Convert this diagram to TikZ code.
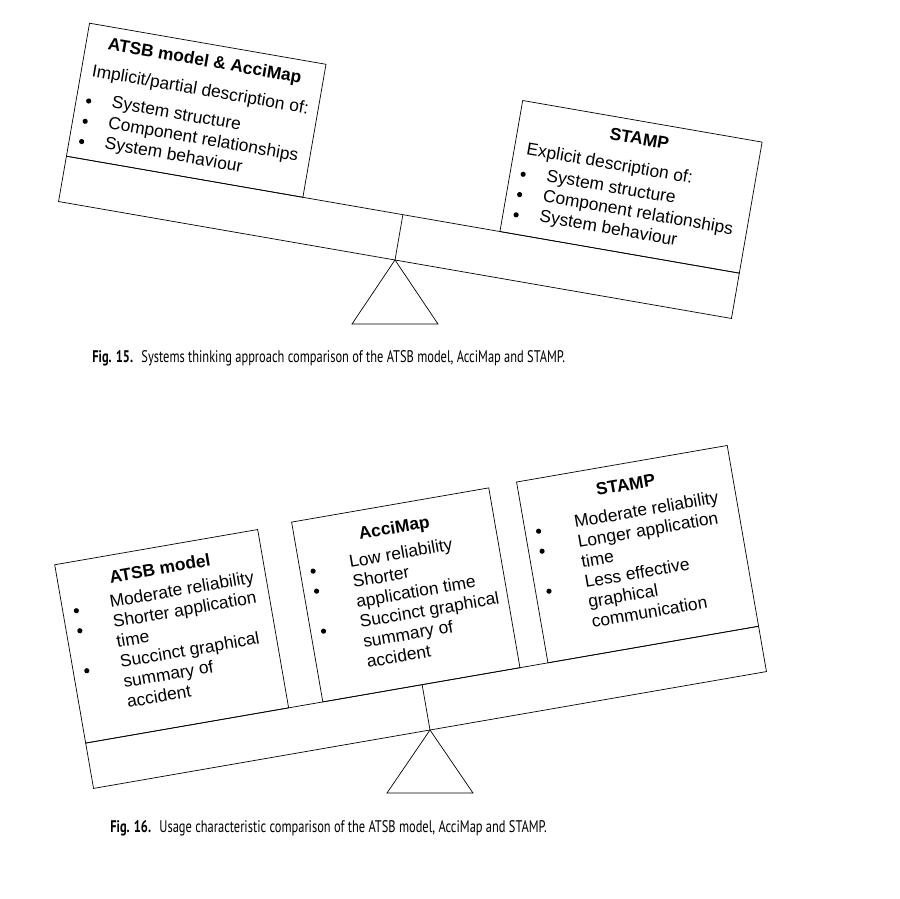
\documentclass[tikz,border=0pt]{standalone}
\usepackage{fontspec}
\setmainfont{Liberation Sans}
\newfontfamily\capfont[FakeStretch=0.74]{PT Sans}

\begin{document}
\begin{tikzpicture}[x=1pt, y=1pt, line width=0.7pt,
        boxtxt/.style={font=\fontsize{17.4}{20}\selectfont, inner sep=0pt, anchor=base west},
        boxtitle/.style={font=\fontsize{17.4}{20}\selectfont\bfseries, inner sep=0pt, anchor=base},
        captxt/.style={font=\capfont\fontsize{16.8}{19}\selectfont, inner sep=0pt, anchor=base west}]
        \useasboundingbox (0,0) rectangle (900,898);
        % Fig. 15 — beam tips down to the right
        \begin{scope}[shift={(395,638)}]
            \draw (0,0) -- (-43,-64) -- (43,-64) -- cycle;
            \begin{scope}[rotate=-9.86, transform shape]
                \draw (-341.5,0) rectangle (341.5,46);
                \draw (0,0) -- (0,46);
                \draw (-341.5,46) rectangle (-101.5,181);
                \draw (98.5,46) rectangle (341.5,179);
                % left box
                \node[boxtitle] (t15a) at (-221.5,158) {ATSB model \& AcciMap};
                \node[boxtxt] (s15a) at (-331,129) {Implicit/partial description of:};
                \foreach \t [count=\i from 0] in {System structure, Component relationships, System behaviour} {
                    \fill (-329,104.2-20.6*\i) circle (2.6);
                    \node[boxtxt] (a15-\i) at (-306,101.2-20.6*\i) {\t};
                }
                % right box
                \node[boxtitle] (t15b) at (220,155.5) {STAMP};
                \node[boxtxt] (s15b) at (110.6,126.2) {Explicit description of:};
                \foreach \t [count=\i from 0] in {System structure, Component relationships, System behaviour} {
                    \fill (111.6,106.4-20.6*\i) circle (2.6);
                    \node[boxtxt] (b15-\i) at (134.9,103.4-20.6*\i) {\t};
                }
            \end{scope}
        \end{scope}
        \node[captxt] (cap15) at (92,535.7) {\textbf{Fig. 15.}\hspace{0.5em}Systems thinking approach comparison of the ATSB model, AcciMap and STAMP.};
        % Fig. 16 — beam tips up to the right
        \begin{scope}[shift={(430,168)}]
            \draw (0,0) -- (-43,-63) -- (43,-63) -- cycle;
            \begin{scope}[rotate=9.85, transform shape]
                \draw (-341.5,0) rectangle (341.5,46);
                \draw (0,0) -- (0,46);
                \draw (-341.5,46) rectangle (-135.5,227);
                \draw (-100.8,46) rectangle (99.3,228.5);
                \draw (127.7,46) rectangle (341.5,229.5);
                % ATSB model
                \node[boxtitle] (t16a) at (-238.5,199.4) {ATSB model};
                \foreach \t [count=\i from 0] in {Moderate reliability, Shorter application, time, Succinct graphical, summary of, accident}
                    \node[boxtxt] (a16-\i) at (-294,175-20.3*\i) {\t};
                \foreach \i in {0,1,3}
                    \fill (-328,178-20.3*\i) circle (2.6);
                % AcciMap
                \node[boxtitle] (t16b) at (-0.75,199.7) {AcciMap};
                \foreach \t [count=\i from 0] in {Low reliability, Shorter, application time, Succinct graphical, summary of, accident}
                    \node[boxtxt] (b16-\i) at (-51,173.5-20.3*\i) {\t};
                \foreach \i in {0,1,3}
                    \fill (-88,176.5-20.3*\i) circle (2.6);
                % STAMP
                \node[boxtitle] (t16c) at (234.6,202) {STAMP};
                \foreach \t [count=\i from 0] in {Moderate reliability, Longer application, time, Less effective, graphical, communication}
                    \node[boxtxt] (c16-\i) at (177.5,174.3-20.3*\i) {\t};
                \foreach \i in {0,1,3}
                    \fill (141,177.3-20.3*\i) circle (2.6);
            \end{scope}
        \end{scope}
        \node[captxt] (cap16) at (110,65.7) {\textbf{Fig. 16.}\hspace{0.5em}Usage characteristic comparison of the ATSB model, AcciMap and STAMP.};
    \end{tikzpicture}
\end{document}
